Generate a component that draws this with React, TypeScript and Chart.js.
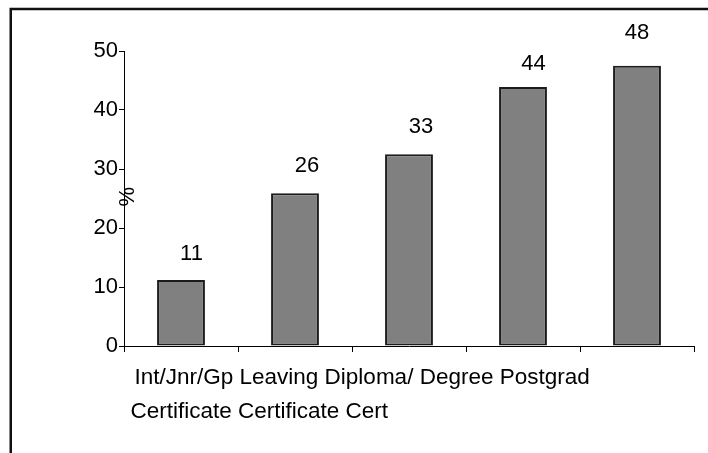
import React, { useEffect, useRef } from "react";
import { Chart, registerables } from "chart.js";

Chart.register(...registerables);

// Category names: first line word(s) and second line word(s)
const categoryLine1 = ["Int/Jnr/Gp", "Leaving", "Diploma/", "Degree", "Postgrad"];
const categoryLine2 = ["Certificate", "Certificate", "Cert", "", ""];
const values = [11.2, 25.9, 32.5, 43.9, 47.5];
const valueLabels = ["11", "26", "33", "44", "48"];
const yTicks = [0, 10, 20, 30, 40, 50];
const yAxisTitle = "%";

const FONT = "'Liberation Sans', Arial, Helvetica, sans-serif";

export default function App() {
  const ref = useRef<HTMLCanvasElement | null>(null);

  useEffect(() => {
    const canvas = ref.current;
    if (!canvas) return;

    const decorations = {
      id: "decorations",
      beforeDraw(chart: any) {
        const ctx = chart.ctx;
        ctx.save();
        ctx.strokeStyle = "#111";
        ctx.lineWidth = 2.5;
        ctx.beginPath();
        ctx.moveTo(10.75, 460);
        ctx.lineTo(10.75, 9);
        ctx.lineTo(720, 9);
        ctx.stroke();
        ctx.restore();
      },
      afterDraw(chart: any) {
        const ctx = chart.ctx;
        const meta = chart.getDatasetMeta(0);
        const dx = [10.5, 12, 12, 10.5, 0];
        const dy = [26, 27, 27, 23.5, 33];
        ctx.save();
        ctx.fillStyle = "#000";
        ctx.font = `22px ${FONT}`;
        ctx.textAlign = "center";
        ctx.textBaseline = "middle";
        meta.data.forEach((bar: any, i: number) => {
          ctx.fillText(valueLabels[i], bar.x + dx[i], bar.y - dy[i]);
        });
        // category labels, flowing as two lines
        ctx.textAlign = "left";
        ctx.textBaseline = "alphabetic";
        ctx.font = `22.5px ${FONT}`;
        const l1 = categoryLine1.filter((s) => s).join(" ");
        const l2 = categoryLine2.filter((s) => s).join(" ");
        const area = chart.chartArea;
        ctx.fillText(l1, area.left + 10.5, area.bottom + 38);
        ctx.fillText(l2, area.left + 6.5, area.bottom + 72);
        // y axis title "%"
        const ys = chart.scales.y;
        ctx.save();
        ctx.translate(area.left + 4, ys.getPixelForValue(25.3));
        ctx.rotate(-Math.PI / 2);
        ctx.textAlign = "center";
        ctx.textBaseline = "middle";
        ctx.font = `22px ${FONT}`;
        ctx.fillText(yAxisTitle, 0, 0);
        ctx.restore();
        ctx.restore();
      },
    };

    const chart = new Chart(canvas, {
      type: "bar",
      data: {
        labels: categoryLine1.map((a, i) => (categoryLine2[i] ? `${a} ${categoryLine2[i]}` : a)),
        datasets: [
          {
            data: values,
            backgroundColor: "#808080",
            borderColor: "#1c1c1c",
            borderWidth: 2,
            borderSkipped: false,
            barPercentage: 0.42,
            categoryPercentage: 1,
          },
        ],
      },
      options: {
        animation: false,
        responsive: false,
        events: [],
        layout: { padding: { left: 0, top: 51, right: 14, bottom: 0 } },
        plugins: {
          legend: { display: false },
          tooltip: { enabled: false },
          title: { display: false },
        },
        scales: {
          x: {
            offset: true,
            grid: {
              offset: true,
              display: true,
              drawOnChartArea: false,
              drawTicks: true,
              tickLength: 6,
              color: "#000",
              lineWidth: 1,
            },
            border: { display: true, color: "#000", width: 1 },
            ticks: { display: false },
            afterFit(scale: any) {
              scale.height = 107;
            },
          },
          y: {
            min: 0,
            max: 50,
            afterBuildTicks(scale: any) {
              scale.ticks = yTicks.map((v) => ({ value: v }));
            },
            grid: {
              display: true,
              drawOnChartArea: false,
              drawTicks: true,
              tickLength: 5,
              color: "#000",
              lineWidth: 1,
            },
            border: { display: true, color: "#000", width: 1 },
            ticks: {
              color: "#000",
              padding: 1,
              font: { family: FONT, size: 22 },
            },
            afterFit(scale: any) {
              scale.width = 124;
            },
          },
        },
      },
      plugins: [decorations],
    });

    return () => chart.destroy();
  }, []);

  return (
    <div style={{ position: "fixed", left: 0, top: 0, width: 708, height: 453, background: "#fff" }}>
      <canvas ref={ref} width={708} height={453} style={{ display: "block" }} />
    </div>
  );
}
